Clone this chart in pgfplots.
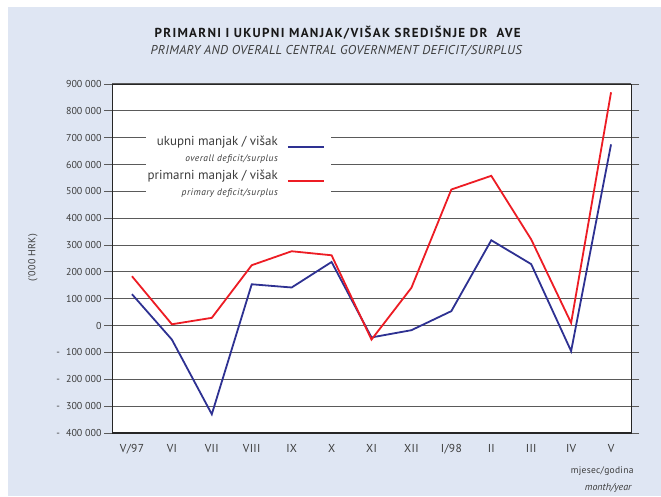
\documentclass[border=0pt]{standalone}
\usepackage{fontspec}
\setmainfont{PT Sans}
\newfontfamily\titlefont[LetterSpace=10]{PT Sans}
\newfontfamily\subfont[LetterSpace=2.5]{PT Sans}
\newfontfamily\smallfont[LetterSpace=5]{PT Sans}
\newfontfamily\labfont[LetterSpace=3]{PT Sans}
\usepackage{pgfplots}
\pgfplotsset{compat=1.18}
\definecolor{panel}{HTML}{DFE6F3}
\definecolor{navy}{HTML}{2E3192}
\definecolor{redline}{HTML}{ED1C24}
\definecolor{gridc}{HTML}{5A5A5A}
\definecolor{txt}{HTML}{3C3C3C}
\begin{document}
\begin{tikzpicture}
\path[use as bounding box] (0pt,0pt) rectangle (661pt,496pt);
\fill[panel] (8pt,0pt) rectangle (661pt,489pt);
\node[text=black!90,font=\fontsize{13}{14}\selectfont\titlefont\bfseries] at (337.7pt,463.3pt) {PRIMARNI I UKUPNI MANJAK/VIŠAK SREDIŠNJE DR\ \ AVE};
\node[text=txt,font=\fontsize{12.8}{14}\selectfont\subfont\itshape] at (336.3pt,444.8pt) {PRIMARY AND OVERALL CENTRAL GOVERNMENT DEFICIT/SURPLUS};
\node[text=txt,rotate=90,font=\fontsize{10}{11}\selectfont\labfont] at (33pt,238pt) {('000 HRK)};
\node[text=txt,anchor=east,font=\fontsize{9.5}{11}\selectfont\labfont] at (637pt,25pt) {mjesec/godina};
\node[text=txt,anchor=east,font=\fontsize{10}{11}\selectfont\itshape] at (635pt,8.5pt) {month/year};
\begin{axis}[
  at={(112pt,63pt)}, anchor=south west,
  scale only axis, width=519pt, height=349pt,
  xmin=-0.5, xmax=12.5, ymin=-400000, ymax=900000,
  scaled y ticks=false,
  axis background/.style={fill=white},
  xtick={0,...,12},
  xticklabels={V/97,VI,VII,VIII,IX,X,XI,XII,I/98,II,III,IV,V},
  x tick style={draw=none},
  xticklabel style={text=txt, font=\fontsize{11.5}{12}\selectfont\labfont, anchor=base, yshift=-11pt},
  ytick={-400000,-300000,-200000,-100000,0,100000,200000,300000,400000,500000,600000,700000,800000,900000},
  yticklabels={-\hspace{6pt}400 000,-\hspace{6pt}300 000,-\hspace{6pt}200 000,-\hspace{6pt}100 000,0,100 000,200 000,300 000,400 000,500 000,600 000,700 000,800 000,900 000},
  yticklabel style={text=txt, font=\fontsize{10}{11}\selectfont, xshift=1pt},
  tick align=outside, major tick length=8pt,
  y tick style={gridc, line width=0.9pt},
  ymajorgrids, major grid style={gridc, line width=1pt},
  axis line style={black!85, line width=0.8pt},
  legend style={at={(rel axis cs:0.422,0.865)}, anchor=north east, draw=none, fill=white,
    text=txt, font=\fontsize{13}{13}\selectfont, legend cell align=right, row sep=10.5pt,
    inner xsep=0pt, inner ysep=3pt},
  legend plot pos=right,
  legend image code/.code={\path[draw=none] (-8pt,0pt) -- (43pt,0pt);\draw[#1, line width=2pt] (0pt,-1.3pt) -- (36pt,-1.3pt);},
]
\addplot[navy, line width=1.8pt] coordinates {
(0,117000) (1,-52000) (2,-330000) (3,154000) (4,142000) (5,237000) (6,-44000)
(7,-17000) (8,54000) (9,318000) (10,229000) (11,-95000) (12,675000)};
\addlegendentry{\begin{tabular}{@{}r@{}}ukupni manjak / višak\\[3pt]{\fontsize{9.5}{10}\selectfont\smallfont\itshape overall deficit/surplus}\end{tabular}}
\addplot[redline, line width=1.8pt] coordinates {
(0,184000) (1,5000) (2,29000) (3,225000) (4,277000) (5,262000) (6,-52000)
(7,141000) (8,507000) (9,558000) (10,321000) (11,10000) (12,869000)};
\addlegendentry{\begin{tabular}{@{}r@{}}primarni manjak / višak\\[3pt]{\fontsize{9.5}{10}\selectfont\smallfont\itshape primary deficit/surplus}\end{tabular}}
\draw[black!85, line width=2pt] (rel axis cs:0,1) -- (rel axis cs:0,0) -- (rel axis cs:1,0);
\end{axis}
\end{tikzpicture}
\end{document}
